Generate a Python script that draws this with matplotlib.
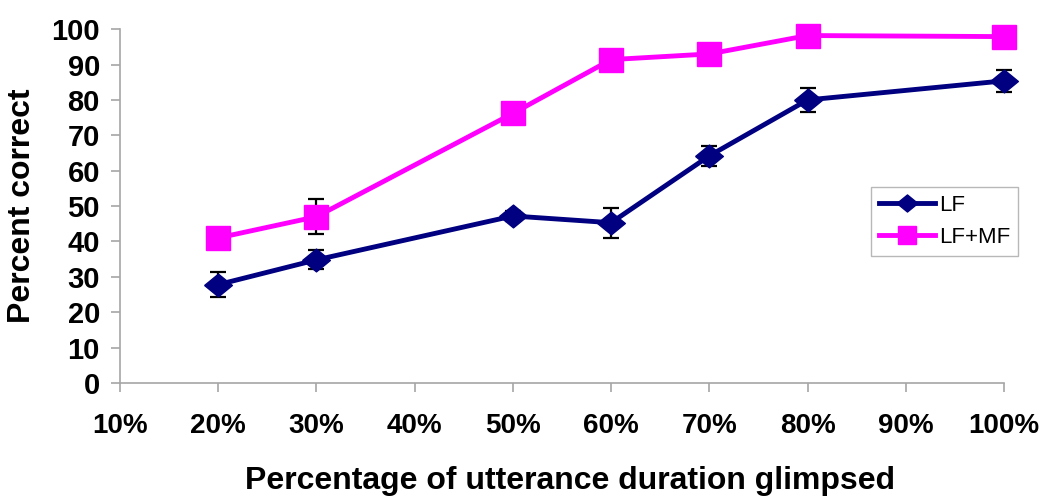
import numpy as np
import matplotlib
matplotlib.use("Agg")
import matplotlib.pyplot as plt

plt.rcParams['font.family'] = ['Liberation Sans', 'DejaVu Sans']

# glimpsed duration (%)
durations = [20, 30, 50, 60, 70, 80, 100]

lf = [27.8, 34.8, 47.2, 45.3, 64.2, 80.0, 85.4]
lf_err = [3.5, 2.7, 1.5, 4.2, 2.8, 3.4, 3.1]

lfmf = [41.0, 47.0, 76.2, 91.4, 93.0, 98.2, 97.9]
lfmf_err = [1.0, 5.0, 1.0, 1.0, 1.0, 1.0, 1.0]

xticks = [10, 20, 30, 40, 50, 60, 70, 80, 90, 100]
yticks = [0, 10, 20, 30, 40, 50, 60, 70, 80, 90, 100]

fig = plt.figure(figsize=(10.5, 5.03), dpi=100)
ax = fig.add_axes([0.1143, 0.2386, 0.8419, 0.7034])

# wide diamond like the original
diamond = [(-1, 0), (0, 0.82), (1, 0), (0, -0.82), (-1, 0)]

ax.errorbar(durations, lf, yerr=lf_err, fmt='none', ecolor='black',
            elinewidth=1.6, capsize=5.5, capthick=1.6, zorder=2)
ax.errorbar(durations, lfmf, yerr=lfmf_err, fmt='none', ecolor='black',
            elinewidth=1.6, capsize=5.5, capthick=1.6, zorder=2)

ax.plot(durations, lf, color='#000080', lw=3.5, marker=diamond, ms=20,
        label='LF', zorder=3)
ax.plot(durations, lfmf, color='#FF00FF', lw=3.5, marker='s', ms=17,
        label='LF+MF', zorder=3)

ax.set_xlim(10, 100)
ax.set_ylim(0, 100)
ax.set_xticks(xticks)
ax.set_xticklabels([f"{t}%" for t in xticks])
ax.set_yticks(yticks)

for s in ['top', 'right']:
    ax.spines[s].set_visible(False)
for s in ['left', 'bottom']:
    ax.spines[s].set_color('#A6A6A6')
    ax.spines[s].set_linewidth(1.2)

ax.tick_params(axis='both', direction='out', length=6.5, width=1.2,
               color='#A6A6A6')
ax.tick_params(axis='y', pad=8, labelsize=21)
ax.tick_params(axis='x', pad=15, labelsize=20)
for lab in ax.get_xticklabels() + ax.get_yticklabels():
    lab.set_fontweight('bold')

for line in ax.lines:
    line.set_clip_on(False)

ax.set_xlabel("Percentage of utterance duration glimpsed", fontsize=23,
              fontweight='bold', labelpad=20)
ax.xaxis.set_label_coords(0.509, -0.235)
ax.set_ylabel("Percent correct", fontsize=23, fontweight='bold', labelpad=10)

leg = ax.legend(loc='upper left', bbox_to_anchor=(0.85, 0.554), fontsize=16,
                frameon=True, fancybox=False, handlelength=2.5,
                borderpad=0.35, labelspacing=0.5, handletextpad=0.2,
                borderaxespad=0)
leg.get_frame().set_edgecolor('#A6A6A6')
leg.get_frame().set_linewidth(1.0)
for h in leg.legend_handles:
    h.set_markersize(h.get_markersize() * 0.75)

fig.savefig("out.png", dpi=100)
